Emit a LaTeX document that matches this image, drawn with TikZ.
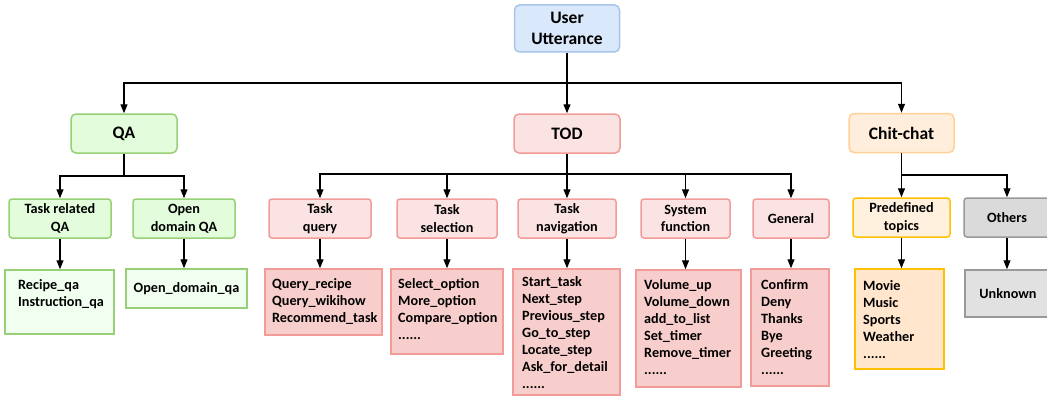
\documentclass[tikz,border=0pt]{standalone}
\usepackage{fontspec}
\setmainfont{Carlito}
\usetikzlibrary{arrows.meta}
\definecolor{blueF}{HTML}{DAE8FC}
\definecolor{blueD}{HTML}{A9C4EB}
\definecolor{greenF}{HTML}{E2FCDC}
\definecolor{greenL}{HTML}{F1FFF0}
\definecolor{greenD}{HTML}{97D077}
\definecolor{redF}{HTML}{FBE3E3}
\definecolor{redL}{HTML}{F8CECC}
\definecolor{redD}{HTML}{F19C99}
\definecolor{orF}{HTML}{FFEEDB}
\definecolor{orD}{HTML}{FFD199}
\definecolor{yeF}{HTML}{FFF1DE}
\definecolor{yeL}{HTML}{FFE6CC}
\definecolor{yeD}{HTML}{FFC000}
\definecolor{grF}{HTML}{DADADA}
\definecolor{grL}{HTML}{E1E1E1}
\definecolor{grD}{HTML}{999999}
\tikzset{
  nbox/.style={draw, line width=1.5pt, inner sep=0pt, align=center,
    font=\bfseries\fontsize{14.2}{17.5}\selectfont},
  topbox/.style={nbox, rounded corners=5pt, minimum height=39pt,
    font=\bfseries\fontsize{17.5}{21}\selectfont},
  subbox/.style={nbox, rounded corners=3pt, minimum height=39pt},
  listbox/.style={nbox},
  listtxt/.style={anchor=north west, inner sep=0pt, align=left,
    font=\bfseries\fontsize{14.2}{17}\selectfont},
  conn/.style={line width=1.2pt, black},
  arr/.style={conn, -{Triangle[length=9pt,width=7pt]}},
}
\begin{document}
\begin{tikzpicture}[x=1pt,y=-1pt]
\useasboundingbox (0,0) rectangle (1047,396);
\clip (0,0) rectangle (1047,396);

% top level
\node[topbox, fill=blueF, draw=blueD, minimum width=105pt, minimum height=47pt] (uu) at (567,28.5) {User\\Utterance};
\node[topbox, fill=greenF, draw=greenD, minimum width=106pt] (qa) at (124,133.5) {QA};
\node[topbox, fill=redF, draw=redD, minimum width=106pt] (tod) at (567,133.5) {TOD};
\node[topbox, fill=orF, draw=orD, minimum width=105pt] (cc) at (901.5,133) {Chit-chat};

% second level
\node[subbox, fill=greenF, draw=greenD, minimum width=102pt] (trqa) at (60,218.5) {Task related\\QA};
\node[subbox, fill=greenF, draw=greenD, minimum width=102pt] (odqa) at (184,218.5) {Open\\domain QA};
\node[subbox, fill=redF, draw=redD, minimum width=102pt] (tq) at (320,218.5) {Task\\query};
\node[subbox, fill=redF, draw=redD, minimum width=100pt] (ts) at (447,218.5) {Task\\selection};
\node[subbox, fill=redF, draw=redD, minimum width=98pt] (tn) at (567,218.5) {Task\\navigation};
\node[subbox, fill=redF, draw=redD, minimum width=89pt] (sf) at (685.5,218.5) {System\\function};
\node[subbox, fill=redF, draw=redD, minimum width=76pt] (gen) at (791,218.5) {General};
\node[subbox, fill=yeF, draw=yeD, minimum width=97pt] (pt) at (901.5,217.5) {Predefined\\topics};
\node[subbox, fill=grF, draw=grD, minimum width=86pt] (oth) at (1007,217.5) {Others};

% third level boxes
\node[listbox, fill=greenL, draw=greenD, minimum width=109pt, minimum height=64pt] (recl) at (59.5,302) {};
\node[listbox, fill=greenL, draw=greenD, minimum width=121pt, minimum height=39pt] (odl) at (186.5,288.5) {Open\_domain\_qa};
\node[listbox, fill=redL, draw=redD, minimum width=117pt, minimum height=66pt] (qul) at (323.5,302) {};
\node[listbox, fill=redL, draw=redD, minimum width=112pt, minimum height=85pt] (sel) at (447,311.5) {};
\node[listbox, fill=redL, draw=redD, minimum width=107pt, minimum height=126pt] (navl) at (566.5,332) {};
\node[listbox, fill=redL, draw=redD, minimum width=105pt, minimum height=117pt] (sysl) at (688.5,328.5) {};
\node[listbox, fill=redL, draw=redD, minimum width=78pt, minimum height=117pt] (genl) at (790,327.5) {};
\node[listbox, fill=yeL, draw=yeD, minimum width=89pt, minimum height=100pt] (prel) at (899.5,319) {};
\node[listbox, fill=grL, draw=grD, minimum width=86pt, minimum height=47pt] (unk) at (1008,293.5) {Unknown};

% list texts
\node[listtxt] (recT) at (18,277.2) {\strut Recipe\_qa\\Instruction\_qa};
\node[listtxt] (quT) at (272,276.2) {\strut Query\_recipe\\Query\_wikihow\\Recommend\_task};
\node[listtxt] (seT) at (398,276.2) {\strut Select\_option\\More\_option\\Compare\_option\\......};
\node[listtxt] (naT) at (522,274.2) {\strut Start\_task\\Next\_step\\Previous\_step\\Go\_to\_step\\Locate\_step\\Ask\_for\_detail\\......};
\node[listtxt] (syT) at (644,277.2) {\strut Volume\_up\\Volume\_down\\add\_to\_list\\Set\_timer\\Remove\_timer\\......};
\node[listtxt] (geT) at (761,277.2) {\strut Confirm\\Deny\\Thanks\\Bye\\Greeting\\......};
\node[listtxt] (prT) at (863,278.2) {\strut Movie\\Music\\Sports\\Weather\\......};

% buses
\coordinate (b0) at (567,83);
\coordinate (b1) at (124,176);
\coordinate (b2) at (567,174);
\coordinate (b3) at (901.5,175);

\draw[conn] (uu.south) -- (b0);
\draw[arr] (b0) -| (qa.north);
\draw[arr] (b0) -- (tod.north);
\draw[arr] (b0) -| (cc.north);

\draw[conn] (qa.south) -- (b1);
\draw[arr] (b1) -| (trqa.north);
\draw[arr] (b1) -| (odqa.north);

\draw[conn] (tod.south) -- (b2);
\draw[arr] (b2) -| (tq.north);
\draw[arr] (b2) -| (ts.north);
\draw[arr] (b2) -- (tn.north);
\draw[arr] (b2) -| (sf.north);
\draw[arr] (b2) -| (gen.north);

\draw[conn] (cc.south) -- (b3);
\draw[arr] (b3) -- (pt.north);
\draw[arr] (b3) -| (oth.north);

% to lists
\draw[arr] (trqa.south) -- (trqa.south |- recl.north);
\draw[arr] (odqa.south) -- (odqa.south |- odl.north);
\draw[arr] (tq.south) -- (tq.south |- qul.north);
\draw[arr] (ts.south) -- (ts.south |- sel.north);
\draw[arr] (tn.south) -- (tn.south |- navl.north);
\draw[arr] (sf.south) -- (sf.south |- sysl.north);
\draw[arr] (gen.south) -- (gen.south |- genl.north);
\draw[arr] (pt.south) -- (pt.south |- prel.north);
\draw[arr] (oth.south) -- (oth.south |- unk.north);
\end{tikzpicture}
\end{document}
